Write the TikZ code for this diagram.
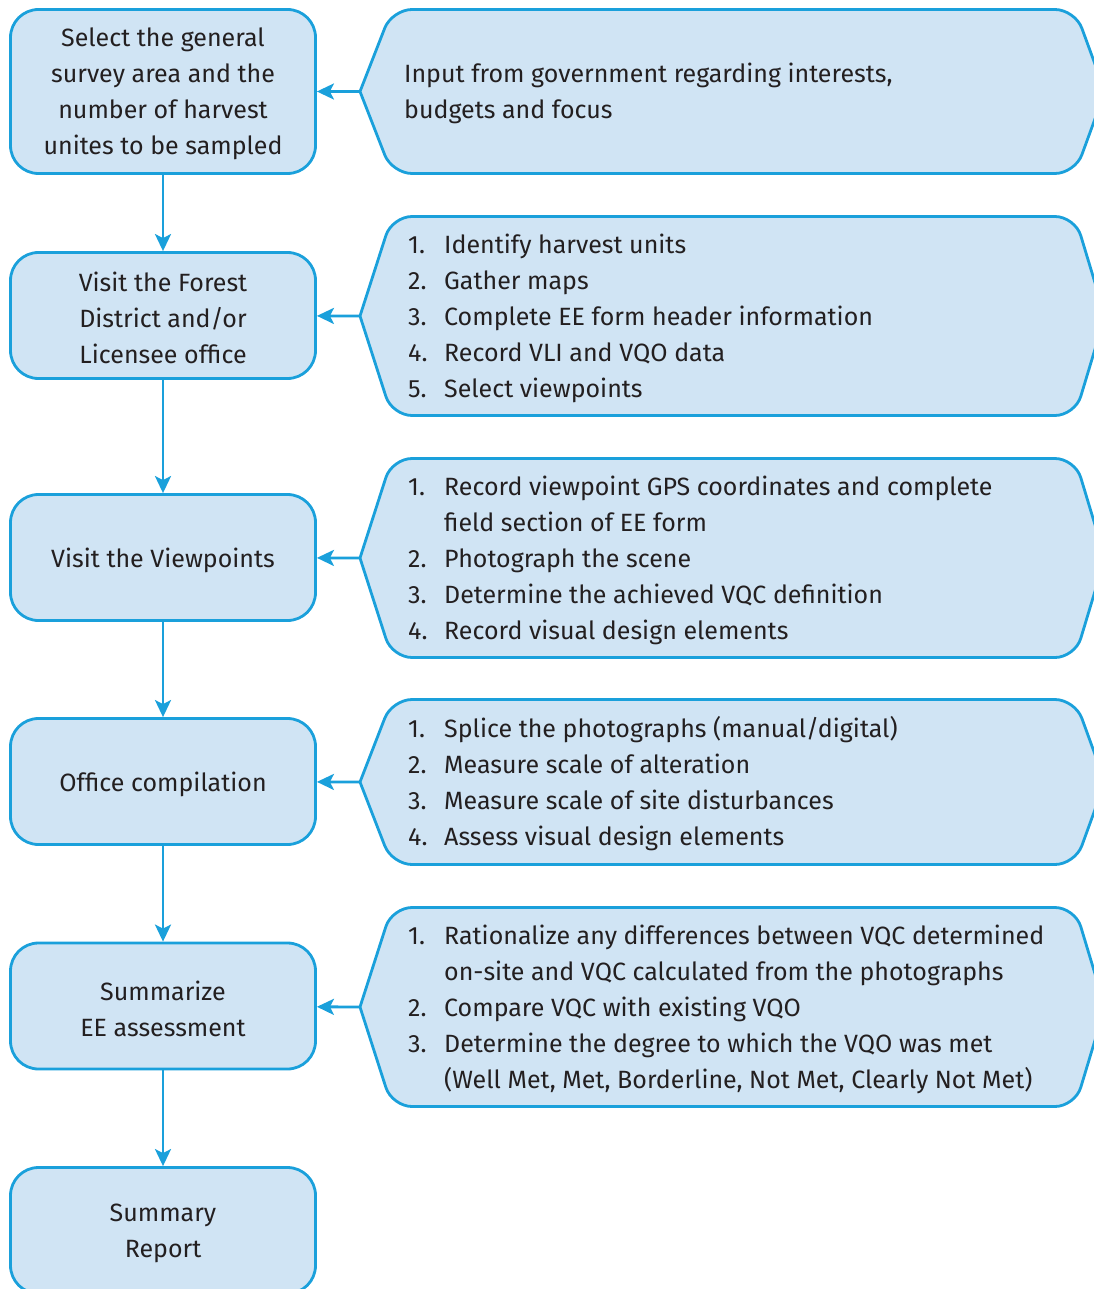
\documentclass[tikz,border=0pt]{standalone}
\usepackage{fontspec}
\setmainfont{Fira Sans}
\usetikzlibrary{arrows.meta}
\definecolor{bfill}{HTML}{D0E4F4}
\definecolor{bline}{HTML}{1AA0DB}
\definecolor{txt}{HTML}{231F20}
\newcommand\rshape[3]{%
  \path[rsh] (360,{(#1+#2)/2}) -- (392,#1) -- (1075,#1) -- (1105,{(#1+#2)/2}) -- (1075,#2) -- (392,#2) -- (360,{(#1+#2)/2});
  \coordinate (#3) at (360,{(#1+#2)/2});
}
\begin{document}
\begin{tikzpicture}[x=1pt,y=-1pt,
  leftbox/.style={draw=bline, fill=bfill, line width=2.8pt, rounded corners=28pt,
    minimum width=305pt, minimum height=126pt, align=center, text=txt,
    font=\fontsize{25}{36}\selectfont, inner sep=0pt},
  ltext/.style={align=center, text=txt, font=\fontsize{25}{36}\selectfont, inner sep=0pt, yshift=-2.5pt},
  rsh/.style={draw=bline, fill=bfill, line width=2.8pt, rounded corners=20pt, line cap=round},
  rtext/.style={anchor=west, align=left, text=txt, font=\fontsize{25}{36}\selectfont, inner sep=0pt, yshift=-2pt},
  arr/.style={draw=bline, line width=2.8pt, -{Stealth[length=17pt,width=16pt,inset=4pt]}}]
\useasboundingbox (0,0) rectangle (1093,1289);
% left boxes
\node[leftbox, minimum height=164pt] (b1) at (163,91.5) {};
\node[leftbox] (b2) at (163,315.5) {};
\node[leftbox] (b3) at (163,557.5) {};
\node[leftbox] (b4) at (163,781.5) {};
\node[leftbox] (b5) at (163,1006) {};
\node[leftbox] (b6) at (163,1230.5) {};
\node[ltext] (l1) at (b1) {Select the general\\survey area and the\\number of harvest\\unites to be sampled};
\node[ltext] (l2) at (b2) {Visit the Forest\\District and/or\\Licensee office};
\node[ltext] (l3) at (b3) {Visit the Viewpoints};
\node[ltext] (l4) at (b4) {Office compilation};
\node[ltext] (l5) at (b5) {Summarize\\EE assessment};
\node[ltext] (l6) at (b6) {Summary\\Report};
% right shapes
\rshape{9.5}{173.5}{r1}
\rshape{216.5}{415.5}{r2}
\rshape{458.5}{657.5}{r3}
\rshape{699.5}{864.5}{r4}
\rshape{907.5}{1106.5}{r5}
\node[rtext] (t1) at (404,91.5) {Input from government regarding interests,\\budgets and focus};
\node[rtext] (t2) at (408,316) {\begin{tabular}{@{}p{36pt}@{}l@{}}
1. & Identify harvest units\\
2. & Gather maps\\
3. & Complete EE form header information\\
4. & Record VLI and VQO data\\
5. & Select viewpoints
\end{tabular}};
\node[rtext] (t3) at (408,558) {\begin{tabular}{@{}p{36pt}@{}l@{}}
1. & Record viewpoint GPS coordinates and complete\\
 & field section of EE form\\
2. & Photograph the scene\\
3. & Determine the achieved VQC definition\\
4. & Record visual design elements
\end{tabular}};
\node[rtext] (t4) at (408,782) {\begin{tabular}{@{}p{36pt}@{}l@{}}
1. & Splice the photographs (manual/digital)\\
2. & Measure scale of alteration\\
3. & Measure scale of site disturbances\\
4. & Assess visual design elements
\end{tabular}};
\node[rtext] (t5) at (408,1007) {\begin{tabular}{@{}p{36pt}@{}l@{}}
1. & Rationalize any differences between VQC determined\\
 & on-site and VQC calculated from the photographs\\
2. & Compare VQC with existing VQO\\
3. & Determine the degree to which the VQO was met\\
 & (Well Met, Met, Borderline, Not Met, Clearly Not Met)
\end{tabular}};
% arrows
\draw[arr] (b1) -- (b2);
\draw[arr] (b2) -- (b3);
\draw[arr] (b3) -- (b4);
\draw[arr] (b4) -- (b5);
\draw[arr] (b5) -- (b6);
\draw[arr] (r1) -- (b1);
\draw[arr] (r2) -- (b2);
\draw[arr] (r3) -- (b3);
\draw[arr] (r4) -- (b4);
\draw[arr] (r5) -- (b5);
\end{tikzpicture}
\end{document}
